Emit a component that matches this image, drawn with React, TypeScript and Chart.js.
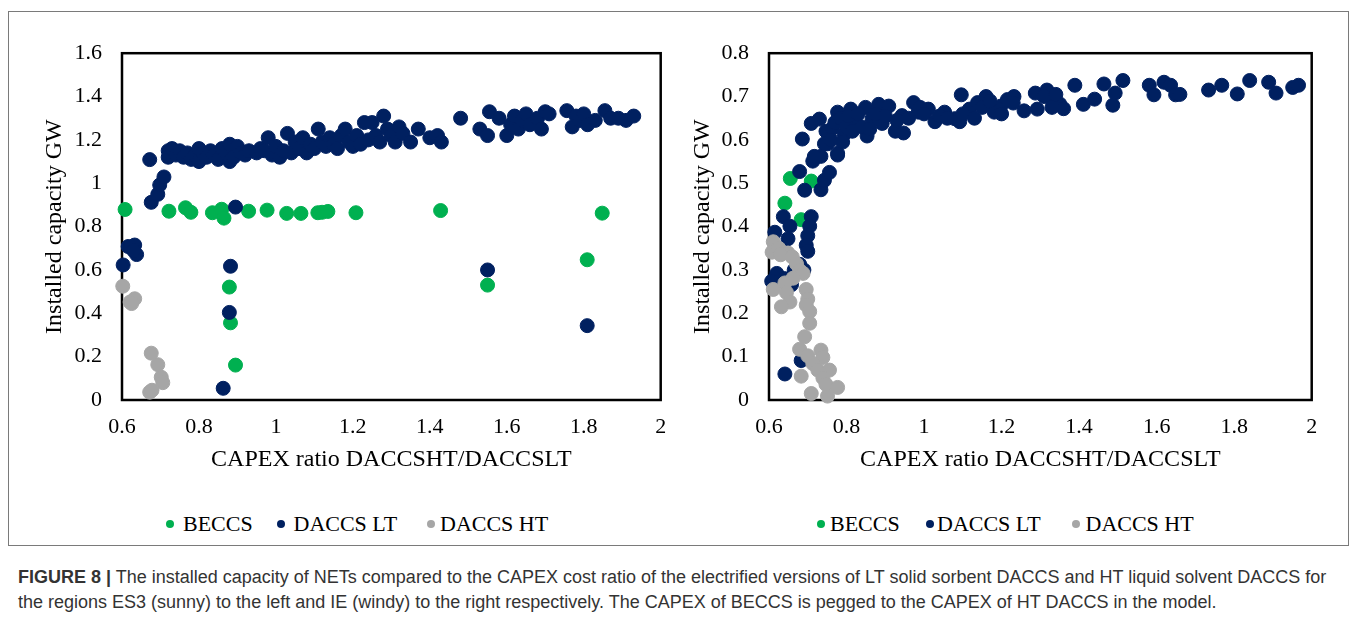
import React, { useEffect, useRef } from "react";
import { Chart, registerables } from "chart.js";

Chart.register(...registerables);

type P = [number, number];

// ---------- DATA ----------
const SERIES_NAMES = ["BECCS", "DACCS LT", "DACCS HT"];

const X_TICKS = [0.6, 0.8, 1, 1.2, 1.4, 1.6, 1.8, 2];
const X_TICK_LABELS = ["0.6", "0.8", "1", "1.2", "1.4", "1.6", "1.8", "2"];
const LEFT_Y_TICKS = [0, 0.2, 0.4, 0.6, 0.8, 1, 1.2, 1.4, 1.6];
const LEFT_Y_TICK_LABELS = ["0", "0.2", "0.4", "0.6", "0.8", "1", "1.2", "1.4", "1.6"];
const RIGHT_Y_TICKS = [0, 0.1, 0.2, 0.3, 0.4, 0.5, 0.6, 0.7, 0.8];
const RIGHT_Y_TICK_LABELS = ["0", "0.1", "0.2", "0.3", "0.4", "0.5", "0.6", "0.7", "0.8"];

const X_TITLE = "CAPEX ratio DACCSHT/DACCSLT";
const Y_TITLE = "Installed capacity GW";

// Left panel (ES3, sunny)
const leftBeccs: P[] = [
  [0.608, 0.879], [0.722, 0.871], [0.765, 0.887], [0.779, 0.866], [0.835, 0.864],
  [0.859, 0.880], [0.865, 0.839], [0.929, 0.871], [0.977, 0.876], [1.028, 0.861],
  [1.065, 0.861], [1.109, 0.864], [1.12, 0.866], [1.135, 0.870], [1.208, 0.864],
  [0.879, 0.521], [0.882, 0.356], [0.895, 0.161], [1.428, 0.874], [1.848, 0.862],
  [1.809, 0.647], [1.550, 0.530],
];

const leftLT: P[] = [
  [0.895, 0.890], [0.882, 0.617], [0.879, 0.404], [0.863, 0.054], [0.603, 0.623],
  [0.616, 0.708], [0.633, 0.715], [0.638, 0.671], [0.630, 0.690], [0.676, 0.912],
  [0.693, 0.949], [0.698, 0.992], [0.709, 1.029], [0.672, 1.109], [1.550, 0.600],
  [1.809, 0.343],
  [0.72, 1.15], [0.72, 1.12], [0.73, 1.16], [0.74, 1.13], [0.75, 1.15], [0.76, 1.12],
  [0.77, 1.14], [0.78, 1.11], [0.79, 1.13], [0.80, 1.16], [0.80, 1.10], [0.81, 1.14],
  [0.82, 1.12], [0.83, 1.15], [0.84, 1.13], [0.85, 1.11], [0.86, 1.16], [0.87, 1.14],
  [0.88, 1.18], [0.88, 1.10], [0.89, 1.12], [0.90, 1.17], [0.91, 1.14], [0.92, 1.13],
  [0.93, 1.15], [0.95, 1.14], [0.96, 1.16], [0.97, 1.15], [0.98, 1.21], [0.99, 1.13],
  [1.00, 1.17], [1.01, 1.12], [1.02, 1.15], [1.03, 1.23], [1.04, 1.14], [1.05, 1.19],
  [1.06, 1.16], [1.07, 1.21], [1.08, 1.14], [1.09, 1.18], [1.10, 1.16], [1.11, 1.25],
  [1.12, 1.19], [1.13, 1.17], [1.14, 1.21], [1.15, 1.18], [1.16, 1.16], [1.17, 1.22],
  [1.18, 1.25], [1.19, 1.19], [1.20, 1.17], [1.21, 1.22], [1.22, 1.18], [1.23, 1.28],
  [1.24, 1.20], [1.25, 1.28], [1.26, 1.22], [1.27, 1.19], [1.28, 1.31], [1.29, 1.25],
  [1.30, 1.22], [1.31, 1.19], [1.32, 1.26], [1.33, 1.23], [1.35, 1.19], [1.37, 1.25],
  [1.40, 1.21], [1.42, 1.22], [1.43, 1.19], [1.48, 1.30], [1.53, 1.25], [1.55, 1.22],
  [1.555, 1.33], [1.58, 1.30], [1.60, 1.22], [1.61, 1.27], [1.62, 1.31], [1.63, 1.25],
  [1.64, 1.29], [1.65, 1.32], [1.66, 1.27], [1.68, 1.30], [1.69, 1.25], [1.70, 1.33],
  [1.71, 1.32], [1.756, 1.335], [1.77, 1.26], [1.78, 1.31], [1.79, 1.29], [1.80, 1.32],
  [1.81, 1.27], [1.83, 1.29], [1.855, 1.335], [1.87, 1.30], [1.89, 1.30], [1.91, 1.29],
  [1.93, 1.31],
];

const leftHT: P[] = [
  [0.602, 0.525], [0.621, 0.452], [0.633, 0.467], [0.625, 0.445], [0.676, 0.216],
  [0.693, 0.163], [0.702, 0.105], [0.706, 0.080], [0.672, 0.036], [0.678, 0.045],
];

// Right panel (IE, windy)
const rightBeccs: P[] = [
  [0.655, 0.511], [0.709, 0.505], [0.641, 0.454], [0.683, 0.416],
];

const rightLT: P[] = [
  [0.686, 0.602], [0.679, 0.527], [0.692, 0.484], [0.734, 0.485], [0.743, 0.507],
  [0.756, 0.525], [0.713, 0.551], [0.734, 0.562], [0.777, 0.565], [0.751, 0.591],
  [0.637, 0.423], [0.654, 0.401], [0.615, 0.387], [0.649, 0.372], [0.709, 0.423],
  [0.705, 0.401], [0.700, 0.379], [0.696, 0.357], [0.700, 0.343], [0.679, 0.313],
  [0.690, 0.300], [0.620, 0.292], [0.607, 0.274], [0.658, 0.266], [0.640, 0.280],
  [0.665, 0.300], [0.683, 0.091], [0.641, 0.060],
  [0.709, 0.638], [0.730, 0.648], [0.747, 0.620], [0.743, 0.591], [0.717, 0.562],
  [0.777, 0.569], [0.777, 0.664], [0.764, 0.627], [0.794, 0.613], [0.811, 0.671],
  [0.824, 0.638], [0.849, 0.675], [0.853, 0.609], [0.866, 0.649], [0.883, 0.682],
  [0.892, 0.638], [0.909, 0.678], [0.926, 0.620], [0.947, 0.616], [0.943, 0.656],
  [0.973, 0.686], [0.985, 0.664], [1.011, 0.671], [1.028, 0.642], [1.053, 0.664],
  [1.079, 0.649], [1.096, 0.704], [1.092, 0.642], [1.117, 0.671], [1.138, 0.686],
  [1.160, 0.700], [1.181, 0.664], [1.198, 0.678], [1.215, 0.693], [1.232, 0.700],
  [1.258, 0.667], [1.287, 0.708], [1.292, 0.671], [1.317, 0.715], [1.330, 0.693],
  [1.350, 0.683], [1.360, 0.672], [1.389, 0.726], [1.411, 0.682], [1.440, 0.694],
  [1.464, 0.729], [1.493, 0.708], [1.487, 0.680], [1.513, 0.737], [1.581, 0.726],
  [1.593, 0.704], [1.619, 0.733], [1.636, 0.726], [1.649, 0.704], [1.660, 0.705],
  [1.734, 0.715], [1.768, 0.726], [1.808, 0.706], [1.840, 0.737], [1.889, 0.733],
  [1.908, 0.708], [1.951, 0.721], [1.966, 0.726],
  [0.760, 0.600], [0.770, 0.640], [0.785, 0.650], [0.790, 0.595], [0.800, 0.630],
  [0.805, 0.655], [0.815, 0.620], [0.830, 0.660], [0.840, 0.630], [0.860, 0.625],
  [0.875, 0.660], [0.900, 0.655], [0.930, 0.645], [0.960, 0.650], [0.990, 0.675],
  [1.000, 0.660], [1.040, 0.655], [1.060, 0.650], [1.100, 0.660], [1.130, 0.650],
  [1.150, 0.675], [1.170, 0.690], [1.200, 0.660], [1.230, 0.685], [1.310, 0.700],
  [1.330, 0.675], [1.340, 0.705],
];

const rightHT: P[] = [
  [0.611, 0.365], [0.608, 0.341], [0.625, 0.350], [0.649, 0.339], [0.630, 0.335],
  [0.660, 0.330], [0.671, 0.314], [0.679, 0.299], [0.688, 0.292], [0.662, 0.281],
  [0.641, 0.270], [0.611, 0.255], [0.645, 0.248], [0.654, 0.226], [0.632, 0.215],
  [0.696, 0.255], [0.700, 0.233], [0.696, 0.219], [0.705, 0.204], [0.705, 0.177],
  [0.692, 0.146], [0.679, 0.117], [0.700, 0.102], [0.734, 0.115], [0.739, 0.098],
  [0.713, 0.084], [0.726, 0.069], [0.756, 0.069], [0.683, 0.055], [0.739, 0.051],
  [0.747, 0.036], [0.777, 0.029], [0.709, 0.015], [0.751, 0.009],
];

const CAPTION_LABEL = "FIGURE 8 |";
const CAPTION_LINE1 =
  " The installed capacity of NETs compared to the CAPEX cost ratio of the electrified versions of LT solid sorbent DACCS and HT liquid solvent DACCS for";
const CAPTION_LINE2 =
  "the regions ES3 (sunny) to the left and IE (windy) to the right respectively. The CAPEX of BECCS is pegged to the CAPEX of HT DACCS in the model.";

// ---------- STYLE ----------
const COLORS = ["#00B050", "#002060", "#A6A6A6"];
const SERIF = "'Liberation Serif', 'Times New Roman', serif";
const SANS = "'Liberation Sans', Arial, sans-serif";

const framePlugin = {
  id: "frame",
  beforeDatasetsDraw(chart: any) {
    const { ctx, chartArea } = chart;
    const { left, top, right, bottom } = chartArea;
    ctx.save();
    ctx.strokeStyle = "#000";
    ctx.lineWidth = 2.5;
    ctx.strokeRect(left, top, right - left, bottom - top);
    ctx.restore();
  },
};

type PanelProps = {
  left: number;
  top: number;
  width: number;
  height: number;
  padTop: number;
  padRight: number;
  yAxisWidth: number;
  xAxisHeight: number;
  yTitlePad: number;
  yTicks: number[];
  yLabels: string[];
  yMax: number;
  series: P[][];
};

function ScatterPanel(props: PanelProps) {
  const ref = useRef<HTMLCanvasElement | null>(null);
  useEffect(() => {
    if (!ref.current) return;
    const p = props;
    const chart = new Chart(ref.current, {
      type: "scatter",
      data: {
        datasets: p.series.map((pts, i) => ({
          label: SERIES_NAMES[i],
          data: pts.map(([x, y]) => ({ x, y })),
          backgroundColor: COLORS[i],
          borderColor: COLORS[i],
          pointRadius: 7,
          pointHoverRadius: 7,
          pointBorderWidth: 1,
          clip: false as any,
          order: 3 - i,
        })),
      },
      options: {
        animation: false,
        responsive: false,
        maintainAspectRatio: false,
        events: [],
        layout: { padding: { left: 0, top: p.padTop, right: p.padRight, bottom: 0 } },
        plugins: {
          legend: { display: false },
          tooltip: { enabled: false },
          title: { display: false },
        },
        scales: {
          x: {
            type: "linear",
            min: 0.6,
            max: 2,
            grid: { display: false, drawTicks: false },
            border: { display: false },
            afterBuildTicks: (scale: any) => {
              scale.ticks = X_TICKS.map((v) => ({ value: v }));
            },
            afterFit: (scale: any) => {
              scale.height = p.xAxisHeight;
            },
            ticks: {
              padding: 13.8,
              color: "#000",
              font: { family: SERIF, size: 22 },
              maxRotation: 0,
              autoSkip: false,
              callback: (_v: any, idx: number) => X_TICK_LABELS[idx],
            },
            title: {
              display: true,
              text: X_TITLE,
              color: "#000",
              font: { family: SERIF, size: 24 },
              padding: { top: 0, bottom: 5.6 },
            },
          },
          y: {
            type: "linear",
            min: 0,
            max: p.yMax,
            grid: { display: false, drawTicks: false },
            border: { display: false },
            afterBuildTicks: (scale: any) => {
              scale.ticks = p.yTicks.map((v) => ({ value: v }));
            },
            afterFit: (scale: any) => {
              scale.width = p.yAxisWidth;
            },
            ticks: {
              padding: 20,
              color: "#000",
              font: { family: SERIF, size: 22 },
              autoSkip: false,
              callback: (_v: any, idx: number) => p.yLabels[idx],
            },
            title: {
              display: true,
              text: Y_TITLE,
              color: "#000",
              font: { family: SERIF, size: 24 },
              padding: { top: p.yTitlePad, bottom: 0 },
            },
          },
        },
      },
      plugins: [framePlugin],
    } as any);
    return () => chart.destroy();
  }, []);
  return (
    <div style={{ position: "absolute", left: props.left, top: props.top, width: props.width, height: props.height }}>
      <canvas ref={ref} width={props.width} height={props.height} style={{ width: props.width, height: props.height, display: "block" }} />
    </div>
  );
}

type LegendPos = { dot: number; text: number };

function Legend({ items, y }: { items: LegendPos[]; y: number }) {
  return (
    <>
      {items.map((it, i) => (
        <React.Fragment key={i}>
          <div
            style={{
              position: "absolute",
              left: it.dot - 4,
              top: y - 4,
              width: 8,
              height: 8,
              borderRadius: "50%",
              background: COLORS[i],
            }}
          />
          <div
            style={{
              position: "absolute",
              left: it.text,
              top: y - 13,
              height: 26,
              lineHeight: "26px",
              fontFamily: SERIF,
              fontSize: 22,
              color: "#000",
              whiteSpace: "nowrap",
            }}
          >
            {SERIES_NAMES[i]}
          </div>
        </React.Fragment>
      ))}
    </>
  );
}

export default function App() {
  return (
    <div
      style={{
        position: "absolute",
        left: 0,
        top: 0,
        width: 1357,
        height: 619,
        overflow: "hidden",
        background: "#fff",
      }}
    >
      <div
        style={{
          position: "absolute",
          left: 8,
          top: 11,
          width: 1339,
          height: 533,
          border: "1px solid #7a7a7a",
        }}
      />
      <ScatterPanel
        left={20}
        top={20}
        width={660}
        height={460}
        padTop={14.5}
        padRight={13.5}
        yAxisWidth={102}
        xAxisHeight={80}
        yTitlePad={20.6}
        yTicks={LEFT_Y_TICKS}
        yLabels={LEFT_Y_TICK_LABELS}
        yMax={1.6}
        series={[leftBeccs, leftLT, leftHT]}
      />
      <ScatterPanel
        left={680}
        top={20}
        width={651}
        height={460}
        padTop={14.3}
        padRight={13.5}
        yAxisWidth={89}
        xAxisHeight={80}
        yTitlePad={8.6}
        yTicks={RIGHT_Y_TICKS}
        yLabels={RIGHT_Y_TICK_LABELS}
        yMax={0.8}
        series={[rightBeccs, rightLT, rightHT]}
      />
      <Legend
        y={523.5}
        items={[
          { dot: 169.5, text: 183 },
          { dot: 281, text: 293.5 },
          { dot: 431, text: 440 },
        ]}
      />
      <Legend
        y={523.5}
        items={[
          { dot: 820.5, text: 830 },
          { dot: 929.5, text: 937 },
          { dot: 1076, text: 1085.5 },
        ]}
      />
      <div
        style={{
          position: "absolute",
          left: 18,
          top: 565,
          fontFamily: SANS,
          fontSize: 18,
          lineHeight: "25px",
          color: "#333",
          whiteSpace: "nowrap",
        }}
      >
        <span style={{ fontWeight: "bold" }}>{CAPTION_LABEL}</span>
        {CAPTION_LINE1}
        <br />
        {CAPTION_LINE2}
      </div>
    </div>
  );
}
